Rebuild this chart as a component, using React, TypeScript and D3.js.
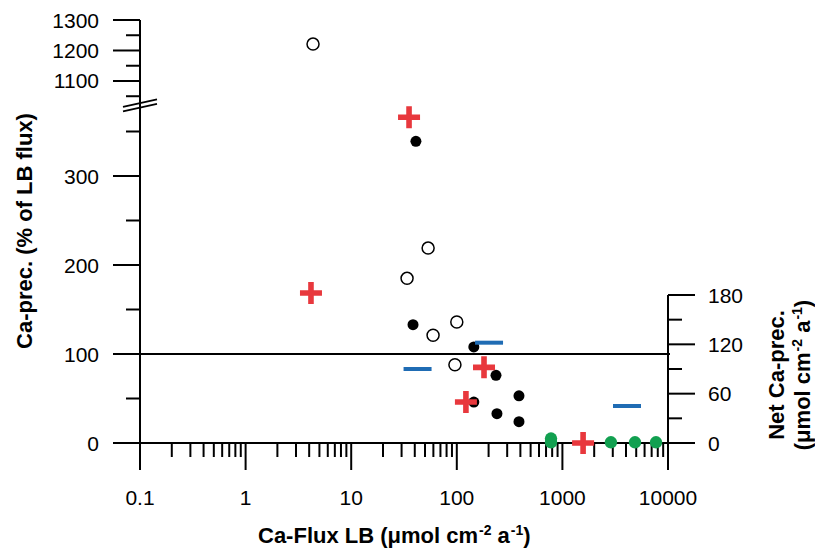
import React, { Component } from 'react';
import * as d3 from 'd3';

// Ca-Flux LB (x, log) vs Ca-prec. in % of LB flux (left axis)
const openX = [4.35, 53.5, 33.8, 100, 59.6, 96];
const openY = [1221, 219, 185, 136, 121, 88];

const filledX = [41, 38.5, 145, 235, 145, 240, 388, 388];
const filledY = [339, 133, 108, 76, 46, 33, 53, 24];

const crossX = [35.3, 4.16, 181, 122, 1570];
const crossY = [366, 168.5, 85, 46, 0];

const greenX = [780, 780, 2880, 4870, 7700];
const greenY = [5, 0.8, 0.8, 0.8, 0.8];

// Net Ca-prec. (right axis)
const netX = [42.5, 202, 4090];
const netY = [90, 122, 45];

const xTicks = [0.1, 1, 10, 100, 1000, 10000];
const lowerTicks = [0, 100, 200, 300];
const lowerMinor = [50, 150, 250, 350];
const upperTicks = [1100, 1200, 1300];
const upperMinor = [1050, 1150, 1250];
const rightTicks = [0, 60, 120, 180];
const rightMinor = [30, 90, 150];

const FONT = '"Liberation Sans", Arial, sans-serif';
const RED = '#e8383d';
const BLUE = '#1f6cb4';
const GREEN = '#12a050';

class App extends Component {
    svgRef = React.createRef<SVGSVGElement>();

    componentDidMount() {
        this.drawChart();
    }

    drawChart = () => {
        const svg = d3.select(this.svgRef.current);
        svg.selectAll('*').remove();

        const x = d3.scaleLog().domain([0.1, 10000]).range([140, 668]);
        const yLower = d3.scaleLinear().domain([0, 380]).range([443, 104.8]);
        const yUpper = d3.scaleLinear().domain([1035, 1300]).range([100.8, 20]);
        const yLeft = v => (v > 1000 ? yUpper(v) : yLower(v));
        const yRight = d3.scaleLinear().domain([0, 180]).range([443, 295]);

        const x0 = x.range()[0];
        const x1 = x.range()[1];
        const yBase = yLower(0);

        const g = svg.append('g')
            .attr('stroke', '#000')
            .attr('stroke-width', 2)
            .attr('fill', 'none');

        // x axis
        g.append('line')
            .attr('x1', x0).attr('x2', x1)
            .attr('y1', yBase).attr('y2', yBase);
        const minorX = [];
        for (let d = 0.1; d < 10000; d *= 10) {
            for (let k = 2; k <= 9; k++) minorX.push(d * k);
        }
        g.selectAll('.xminor').data(minorX).enter().append('line')
            .attr('x1', d => x(d)).attr('x2', d => x(d))
            .attr('y1', yBase).attr('y2', yBase + 14);
        g.selectAll('.xmajor').data(xTicks).enter().append('line')
            .attr('x1', d => x(d)).attr('x2', d => x(d))
            .attr('y1', yBase).attr('y2', yBase + 27);

        // left axis, broken
        g.append('line')
            .attr('x1', x0).attr('x2', x0)
            .attr('y1', yUpper(1300)).attr('y2', yBase);
        g.selectAll('.lmaj').data(lowerTicks).enter().append('line')
            .attr('x1', x0 - 27).attr('x2', x0)
            .attr('y1', d => yLower(d)).attr('y2', d => yLower(d));
        g.selectAll('.lmin').data(lowerMinor).enter().append('line')
            .attr('x1', x0 - 14).attr('x2', x0)
            .attr('y1', d => yLower(d)).attr('y2', d => yLower(d));
        g.selectAll('.umaj').data(upperTicks).enter().append('line')
            .attr('x1', x0 - 27).attr('x2', x0)
            .attr('y1', d => yUpper(d)).attr('y2', d => yUpper(d));
        g.selectAll('.umin').data(upperMinor).enter().append('line')
            .attr('x1', x0 - 14).attr('x2', x0)
            .attr('y1', d => yUpper(d)).attr('y2', d => yUpper(d));

        // break marks
        const bY = (yUpper(1035) + yLower(380)) / 2;
        [0, 4.5].forEach(off => {
            g.append('line')
                .attr('x1', x0 - 17).attr('x2', x0 + 17)
                .attr('y1', bY + 4 + off).attr('y2', bY - 3.5 + off)
                .attr('stroke-width', 1.8);
        });

        // right axis
        g.append('line')
            .attr('x1', x1).attr('x2', x1)
            .attr('y1', yRight(180)).attr('y2', yBase);
        g.selectAll('.rmaj').data(rightTicks).enter().append('line')
            .attr('x1', x1).attr('x2', x1 + 27)
            .attr('y1', d => yRight(d)).attr('y2', d => yRight(d));
        g.selectAll('.rmin').data(rightMinor).enter().append('line')
            .attr('x1', x1).attr('x2', x1 + 14)
            .attr('y1', d => yRight(d)).attr('y2', d => yRight(d));

        // 100 % line
        g.append('line')
            .attr('x1', x0).attr('x2', x1 + 2)
            .attr('y1', yLower(100)).attr('y2', yLower(100));

        // tick labels
        const labels = svg.append('g')
            .attr('font-family', FONT)
            .attr('font-size', 21)
            .attr('fill', '#000');
        labels.selectAll('.xl').data(xTicks).enter().append('text')
            .attr('x', d => x(d)).attr('y', 505)
            .attr('text-anchor', 'middle')
            .text(d => String(d));
        labels.selectAll('.ll').data(lowerTicks.concat(upperTicks)).enter().append('text')
            .attr('x', 99).attr('y', d => yLeft(d) + 7.5)
            .attr('text-anchor', 'end')
            .text(d => String(d));
        labels.selectAll('.rl').data(rightTicks).enter().append('text')
            .attr('x', 708).attr('y', d => yRight(d) + 7.5)
            .attr('text-anchor', 'start')
            .text(d => String(d));

        // markers
        const pts = svg.append('g');
        pts.selectAll('.open').data(openX).enter().append('circle')
            .attr('cx', d => x(d)).attr('cy', (d, i) => yLeft(openY[i]))
            .attr('r', 6)
            .attr('fill', '#fff').attr('stroke', '#000').attr('stroke-width', 1.5);
        pts.selectAll('.filled').data(filledX).enter().append('circle')
            .attr('cx', d => x(d)).attr('cy', (d, i) => yLeft(filledY[i]))
            .attr('r', 5.5)
            .attr('fill', '#000');
        pts.selectAll('.green').data(greenX).enter().append('circle')
            .attr('cx', d => x(d)).attr('cy', (d, i) => yLeft(greenY[i]))
            .attr('r', 6.2)
            .attr('fill', GREEN);
        const cross = 'M-11,-2.8H-2.8V-11H2.8V-2.8H11V2.8H2.8V11H-2.8V2.8H-11Z';
        pts.selectAll('.cross').data(crossX).enter().append('path')
            .attr('d', cross)
            .attr('transform', (d, i) => 'translate(' + x(d) + ',' + yLeft(crossY[i]) + ')')
            .attr('fill', RED);
        pts.selectAll('.net').data(netX).enter().append('line')
            .attr('x1', d => x(d) - 14).attr('x2', d => x(d) + 14)
            .attr('y1', (d, i) => yRight(netY[i])).attr('y2', (d, i) => yRight(netY[i]))
            .attr('stroke', BLUE).attr('stroke-width', 4);

        // titles
        const titles = svg.append('g')
            .attr('font-family', FONT)
            .attr('font-weight', 'bold')
            .attr('font-size', 22)
            .attr('fill', '#000');

        const unit = (sel) => {
            sel.append('tspan').text('(μmol cm');
            sel.append('tspan').attr('font-size', 14).attr('dx', 1).attr('dy', -8).text('-2');
            sel.append('tspan').attr('dy', 8).text(' a');
            sel.append('tspan').attr('font-size', 14).attr('dx', 1).attr('dy', -8).text('-1');
            sel.append('tspan').attr('dy', 8).text(')');
        };

        const xt = titles.append('text')
            .attr('x', 258).attr('y', 543);
        xt.append('tspan').text('Ca-Flux LB ');
        unit(xt);

        titles.append('text')
            .attr('transform', 'translate(32,231) rotate(-90)')
            .attr('text-anchor', 'middle')
            .text('Ca-prec. (% of LB flux)');

        titles.append('text')
            .attr('transform', 'translate(784,375) rotate(-90)')
            .attr('text-anchor', 'middle')
            .text('Net Ca-prec.');

        const rt = titles.append('text')
            .attr('transform', 'translate(810,375) rotate(-90)')
            .attr('text-anchor', 'middle');
        unit(rt);
    };

    render() {
        return (
            <div style={{ position: 'absolute', left: 0, top: 0 }}>
                <svg ref={this.svgRef} width={815} height={548}
                    style={{ display: 'block', background: '#fff' }} />
            </div>
        );
    }
}

export default App;
